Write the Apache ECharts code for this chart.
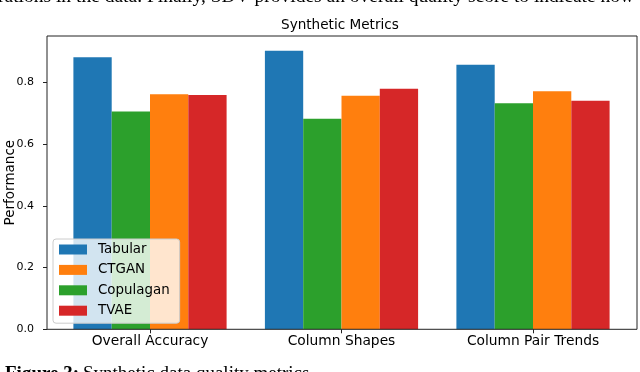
<!DOCTYPE html>
<html><head><meta charset="utf-8">
<script src="https://cdn.jsdelivr.net/npm/echarts@6/dist/echarts.min.js"></script>
<style>html,body{margin:0;padding:0;background:#fff}#c{width:640px;height:372px}</style>
</head><body><div id="c"></div>
<script>
const categories = ['Overall Accuracy', 'Column Shapes', 'Column Pair Trends'];
const tabular = [0.882, 0.903, 0.858];
const copulagan = [0.706, 0.683, 0.733];
const ctgan = [0.762, 0.757, 0.772];
const tvae = [0.760, 0.780, 0.741];
const yTicks = [0, 0.2, 0.4, 0.6, 0.8];
const legendOrder = ['Tabular', 'CTGAN', 'Copulagan', 'TVAE'];
const titleText = 'Synthetic Metrics';
const yName = 'Performance';
const topCaption = 'rations in the data. Finally, SDV provides an overall quality score to indicate how';
const figLabel = 'Figure 3:';
const figCaption = 'Synthetic data quality metrics';

const FONT = 'DejaVu Sans';
const chart = echarts.init(document.getElementById('c'), null, {renderer: 'canvas'});
chart.setOption({
  animation: false,
  backgroundColor: '#fff',
  textStyle: {fontFamily: FONT},
  title: {
    text: titleText, left: 281, top: 18, padding: 0,
    textStyle: {fontFamily: FONT, fontSize: 13.6, fontWeight: 'normal', color: '#000'}
  },
  graphic: [
    {type: 'text', left: -2, top: -13.5, silent: true,
     style: {text: topCaption, font: '19.5px "Liberation Serif"', fill: '#000'}},
    {type: 'text', left: 5, top: 365, silent: true,
     style: {text: figLabel, font: 'bold 19px "Liberation Serif"', fill: '#000'}},
    {type: 'text', left: 83, top: 365, silent: true,
     style: {text: figCaption, font: '19px "Liberation Serif"', fill: '#000'}}
  ],
  legend: {
    orient: 'vertical', left: 53, top: 239,
    data: legendOrder, selectedMode: false,
    icon: 'rect', itemWidth: 28, itemHeight: 10, itemGap: 7.4,
    padding: [4, 10, 6, 6],
    backgroundColor: 'rgba(255,255,255,0.8)',
    borderColor: '#cccccc', borderWidth: 1, borderRadius: 3,
    textStyle: {fontFamily: FONT, fontSize: 13.4, color: '#000', padding: [0, 0, 0, 6]}
  },
  grid: [
    {left: 54.25, right: 11.25, top: 36, bottom: 42.7, containLabel: false, outerBoundsMode: 'none'},
    {left: 47, right: 3, top: 36, bottom: 42.7, show: true, borderColor: '#222', borderWidth: 1,
     backgroundColor: 'transparent', z: 5, outerBoundsMode: 'none'}
  ],
  xAxis: [
    {type: 'category', data: categories, gridIndex: 0,
     axisLine: {show: false},
     axisTick: {show: true, alignWithLabel: true, length: 4, lineStyle: {color: '#222'}},
     axisLabel: {fontFamily: FONT, fontSize: 13.8, color: '#000', margin: 5}},
    {type: 'value', gridIndex: 1, show: false}
  ],
  yAxis: [
    {type: 'value', gridIndex: 0, min: 0, max: 0.951, offset: 7.25,
     splitLine: {show: false},
     axisLine: {show: false},
     axisTick: {show: true, length: 4, lineStyle: {color: '#222'}, customValues: yTicks},
     axisLabel: {fontFamily: FONT, fontSize: 11, color: '#000', margin: 13, customValues: yTicks,
                 formatter: v => v.toFixed(1)},
     name: yName, nameLocation: 'middle', nameGap: 30, nameMoveOverlap: false,
     nameTextStyle: {fontFamily: FONT, fontSize: 13.5, color: '#000'}},
    {type: 'value', gridIndex: 1, show: false}
  ],
  series: [
    {name: 'Tabular', type: 'bar', data: tabular, itemStyle: {color: '#1f77b4'}, barGap: '0%', barCategoryGap: '20%'},
    {name: 'Copulagan', type: 'bar', data: copulagan, itemStyle: {color: '#2ca02c'}},
    {name: 'CTGAN', type: 'bar', data: ctgan, itemStyle: {color: '#ff7f0e'}},
    {name: 'TVAE', type: 'bar', data: tvae, itemStyle: {color: '#d62728'}}
  ]
});
</script></body></html>
